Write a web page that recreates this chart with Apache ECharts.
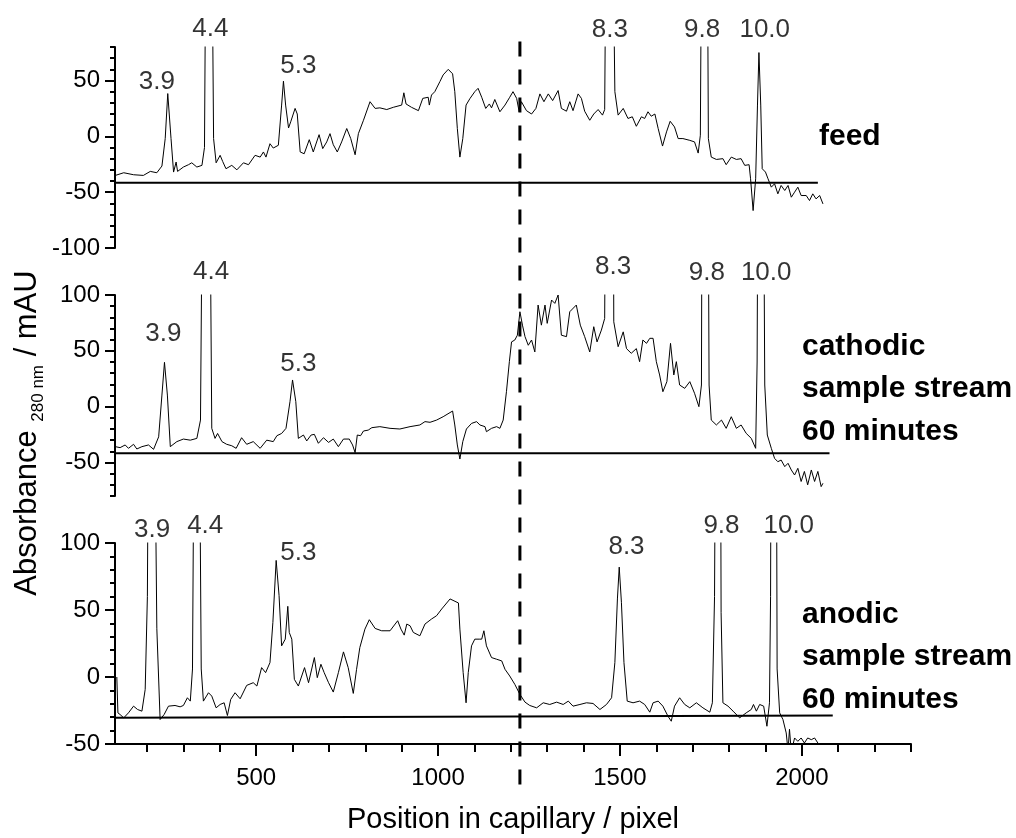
<!DOCTYPE html>
<html><head><meta charset="utf-8">
<script src="https://cdn.jsdelivr.net/npm/echarts@6/dist/echarts.min.js"></script>
<style>html,body{margin:0;padding:0;background:#fff}#main{width:1016px;height:838px}</style>
</head><body><div id="main"></div>
<script>
const FONT = '"Liberation Sans", Arial, Helvetica, sans-serif';

// ---- x axis ----
const xMin = 112, xMax = 2300;
const xLabelTicks = [500, 1000, 1500, 2000];
const xMinorTicks = [200,300,400,500,600,700,800,900,1000,1100,1200,1300,1400,1500,1600,1700,1800,1900,2000,2100,2200,2300];

// ---- y axes ----
const feedYRange = [-100, 80];
const cathYRange = [-80, 100];
const anodYRange = [-50, 100];
const feedYLabels = [-100, -50, 0, 50];
const cathYLabels = [-50, 0, 50, 100];
const anodYLabels = [-50, 0, 50, 100];

// ---- traces [position, absorbance] ----
const feedTrace = [[113,-35],[136,-32.6],[163,-34.4],[190,-35],[209,-31.4],[227,-32.6],[241,-26.6],[250,-2],[257,38.3],[266,-2],[273,-32],[280,-23],[284,-31.4],[300,-27.5],[314,-25.4],[323,-23.7],[337,-27.5],[351,-26],[358,-10],[362,200],[378,200],[383,-2],[390,-23.7],[401,-17],[408,-22.5],[417,-29],[433,-26],[447,-30],[465,-23.7],[479,-25.4],[497,-17],[511,-18.6],[520,-14],[527,-18.6],[538,-6.6],[547,-10.5],[561,-8],[570,28],[575,49.4],[581,28],[589,7.5],[595,13],[607,25],[613,20],[621,-14],[632,-15.6],[646,-3],[657,-14],[673,1.5],[683,-11],[694,-5],[703,2.4],[712,-7.5],[723,-14],[735,-5],[749,7],[760,-2],[772,-16.5],[781,2.4],[795,14.4],[813,31],[827,25],[840,25.5],[859,24],[877,26],[900,28],[906,39],[912,29],[927,26],[946,23],[958,34],[973,35],[976,28],[982,37],[991,40],[1005,49],[1014,55],[1028,60],[1040,56],[1046,40],[1053,7],[1060,-18.6],[1068,-2],[1077,28],[1088,34],[1101,40],[1110,43],[1120,35],[1131,25],[1141,29],[1147,25.5],[1156,33],[1170,22],[1184,28],[1197,35],[1206,40],[1216,34],[1223,22],[1229,31],[1243,23],[1257,20],[1269,25],[1280,38],[1291,31],[1303,38],[1315,32],[1330,41],[1339,25],[1353,22.5],[1362,31],[1371,23],[1385,38],[1394,34],[1403,22.5],[1417,14.4],[1428,20],[1440,24],[1452,19],[1458,24],[1462,200],[1480,200],[1486,40],[1495,19],[1509,25],[1522,16],[1534,17.5],[1545,9],[1559,17.5],[1568,16],[1577,22],[1586,18],[1596,20],[1605,7],[1617,-8.7],[1628,4],[1638,13.5],[1650,8.4],[1660,-2],[1673,-2],[1692,-3.6],[1705,-5],[1715,-15],[1721,1],[1724.5,200],[1740,200],[1743,-2],[1751,-18.6],[1765,-20.7],[1783,-20],[1792,-25.4],[1806,-18.6],[1820,-20.7],[1833,-20],[1843,-26],[1855,-25.4],[1859,-38],[1866,-66.5],[1873,-38],[1878,28],[1882,75],[1887,28],[1891,-29],[1900,-32],[1907,-38],[1916,-45.5],[1925,-42.5],[1934,-51.5],[1943,-44],[1953,-48.5],[1962,-44],[1971,-54.5],[1980,-50],[1989,-45.5],[1998,-53],[2012,-53],[2021,-57.5],[2030,-51.5],[2039,-56],[2049,-53],[2058,-60.5]];

const cathTrace = [[113,-35.8],[126,-36.7],[140,-34.3],[149,-37.3],[163,-33.7],[172,-37.9],[186,-35.8],[204,-34.3],[218,-38.2],[232,-27],[241,10.4],[248,39.7],[256,10.4],[264,-35.8],[282,-31.3],[300,-29],[319,-30],[337,-28.4],[347,-12],[352,200],[373,200],[378,-19.4],[387,-28.4],[394,-24],[406,-31.3],[419,-33.7],[433,-35],[445,-37.3],[460,-27.8],[474,-33.7],[492,-31.3],[511,-37.3],[529,-30],[547,-31.3],[557,-26],[570,-24],[582,-19.4],[593,4.5],[600,23.9],[609,4.5],[616,-28.4],[630,-25.4],[639,-30.7],[651,-25.4],[660,-24.8],[671,-32.8],[685,-27.8],[699,-32],[712,-29],[726,-35.8],[740,-29],[756,-29],[765,-34.3],[772,-41.2],[778,-25.4],[787,-26],[795,-21.8],[808,-21],[818,-18.8],[840,-17.9],[868,-19.4],[895,-20],[923,-17.9],[950,-16.4],[964,-13.4],[978,-14],[996,-12],[1014,-9],[1040,-3.9],[1046,-16.4],[1053,-34.3],[1060,-46.9],[1068,-31.3],[1078,-20],[1092,-15],[1106,-13.4],[1115,-16.4],[1129,-17.9],[1133,-22.4],[1147,-19.4],[1161,-17.9],[1170,-19.4],[1179,-12],[1188,13.4],[1196,40.3],[1202,58],[1211,59.7],[1218,64],[1225,85],[1232,73],[1239,62.7],[1248,55],[1257,59.7],[1266,49],[1275,91],[1284,73],[1294,91],[1300,74.6],[1312,95.5],[1321,92.5],[1330,100],[1339,64],[1353,62.7],[1362,85],[1380,91],[1391,73],[1403,62.7],[1417,49],[1428,71.6],[1437,58],[1449,68.6],[1458,79],[1460,200],[1482,200],[1483,76],[1495,53.7],[1509,67],[1518,52],[1531,47.8],[1545,52],[1554,40.3],[1563,59.7],[1573,56.7],[1582,61.2],[1591,61.2],[1600,40.3],[1609,28.4],[1618,13.4],[1629,22.4],[1639,56.7],[1648,28.4],[1655,40.3],[1664,19.4],[1678,16.4],[1692,22.4],[1705,12],[1717,0],[1724,19.4],[1725.5,200],[1742.5,200],[1745,19.4],[1751,-12],[1765,-16.4],[1779,-12],[1792,-19.4],[1806,-9],[1820,-19.4],[1833,-16.4],[1847,-23.9],[1861,-28.4],[1873,-37.3],[1877,40],[1879,200],[1895,200],[1898,19.4],[1905,-25.4],[1916,-37.3],[1925,-46.3],[1934,-49.3],[1943,-47.8],[1953,-53.7],[1962,-50.7],[1971,-56.7],[1980,-61.2],[1989,-55.2],[1998,-67],[2007,-58],[2016,-70],[2026,-56.7],[2035,-67],[2044,-58],[2053,-71.6],[2058,-68.6]];

const anodTrace = [[117,0],[120,-26.75],[126,-28],[136,-30.5],[149,-26.75],[163,-21.75],[174,-24.25],[186,-25.5],[195,-9.25],[201,60],[204,200],[221,200],[227,36],[236,-31.75],[247,-28],[259,-21.75],[277,-21.25],[291,-22.25],[300,-21.25],[311,-15.5],[319,-18],[325,6],[329.5,200],[344,200],[349,6],[355,-18],[369,-11.75],[378,-14.25],[390,-23],[401,-20.5],[412,-19.25],[421,-28.75],[430,-16.75],[442,-11.75],[456,-16.25],[474,-6.25],[492,-4.25],[502,-6.75],[515,7],[526,3.25],[538,10.75],[546,40.75],[555,87],[563,60.75],[570,23.25],[580,28.25],[587,52.75],[591,33.25],[598,28.25],[605,-1.75],[616,-6.75],[633,7],[644,-4.25],[660,14.5],[668,-0.5],[678,9.5],[687,3.25],[699,-4.25],[712,-11.25],[726,3.25],[740,18.75],[753,7],[767,-12.25],[776,5.75],[785,22],[799,35.75],[811,42.75],[827,36.25],[845,34.5],[868,34.5],[889,42],[898,35.75],[907,31.25],[914,39.5],[923,38.25],[932,33.25],[950,30.75],[964,39.5],[982,43.25],[996,45.75],[1010,50.75],[1033,58.25],[1056,55.25],[1060,35.75],[1069,3.25],[1077,-19.25],[1083,3.25],[1092,23.25],[1101,28.25],[1113,28.25],[1120,28.25],[1126,34.5],[1133,23.25],[1147,14.5],[1161,13.25],[1175,12],[1184,5.75],[1197,0.75],[1211,-5.5],[1225,-13],[1239,-18.75],[1252,-21.25],[1271,-23],[1289,-19.25],[1307,-20.5],[1326,-18.75],[1344,-20.5],[1358,-18],[1371,-21.75],[1390,-20.5],[1408,-19.25],[1426,-19.75],[1445,-24.25],[1463,-20.5],[1477,-15.5],[1486,10.75],[1493,58.25],[1498,82],[1504,55.75],[1511,10.75],[1520,-18],[1536,-19.25],[1554,-18],[1568,-20.5],[1582,-26.25],[1591,-19.25],[1605,-18],[1618,-21.75],[1632,-29.25],[1641,-33],[1650,-21.75],[1664,-15.5],[1678,-20.5],[1692,-23],[1710,-19.25],[1728,-23],[1747,-26.25],[1754,-19.25],[1760,60],[1762.5,200],[1776.5,200],[1778,48],[1783,-19.25],[1797,-21.75],[1811,-25.5],[1829,-30.5],[1847,-26.75],[1861,-24.25],[1867,-20.5],[1875,-25.5],[1884,-20.5],[1895,-21.75],[1904,-36.75],[1911,-19.25],[1914,60],[1915.5,200],[1930,200],[1932,6],[1939,-26.75],[1948,-31.75],[1957,-41.75],[1962,-55],[1966,-39],[1971,-56],[1980,-45.5],[1989,-48],[1998,-45.5],[2007,-49.25],[2016,-45.5],[2026,-46.75],[2035,-45.5],[2044,-49.25]];

// ---- baselines ----
const feedBaseline = [[112,-41.6],[2044,-41.6]];
const cathBaseline = [[112,-41.8],[2076,-41.8]];
const anodBaseline = [[112,-30.5],[2085,-28.8]];

// ---- peak labels (pI) and their positions ----
const peakNames = ['3.9','4.4','5.3','8.3','9.8','10.0'];
const feedLabelPos = [[227,49],[374,96],[616,63],[1472,95],[1726,95],[1898,95]];
const cathLabelPos = [[245,65],[376,121],[616,38],[1481,125],[1739,120],[1902,120]];
const anodLabelPos = [[214,110],[360,113],[616,93],[1518,97],[1779,113],[1964,113]];

// ---- dashed reference line ----
const dashedX = 1225;
const dashedFeedTop = 85;
const dashedAnodBottom = -81;

const panelNames = ['feed', 'cathodic\nsample stream\n60 minutes', 'anodic\nsample stream\n60 minutes'];

function range(a, b, s) { const r = []; for (let v = a; v <= b; v += s) r.push(v); return r; }

const grids = [
  {left: 115, right: 105, top: 47, height: 201, outerBoundsMode: 'none'},
  {left: 115, right: 105, top: 295, height: 201, outerBoundsMode: 'none'},
  {left: 115, right: 105, top: 543, height: 201, outerBoundsMode: 'none'}
];

const axisLineStyle = {color: '#000', width: 2};
function hiddenX(g) {
  return {type: 'value', gridIndex: g, min: xMin, max: xMax, show: false};
}
const mainX = {
  type: 'value', gridIndex: 2, min: xMin, max: xMax, position: 'bottom',
  axisLine: {show: true, onZero: false, lineStyle: axisLineStyle},
  axisTick: {show: true, length: 12, lineStyle: {color: '#000', width: 2}, customValues: xLabelTicks},
  axisLabel: {show: true, color: '#000', fontSize: 24, fontFamily: FONT, margin: 22, customValues: xLabelTicks,
    formatter: v => String(v)},
  splitLine: {show: false},
  name: 'Position in capillary / pixel', nameLocation: 'middle', nameGap: 61,
  nameTextStyle: {color: '#000', fontSize: 29, fontFamily: FONT}
};
const minorX = {
  type: 'value', gridIndex: 2, min: xMin, max: xMax, position: 'bottom',
  axisLine: {show: false, onZero: false},
  axisTick: {show: true, length: 8, lineStyle: {color: '#000', width: 2}, customValues: xMinorTicks},
  axisLabel: {show: false}, splitLine: {show: false}
};

function majorY(g, r, labels) {
  return {
    type: 'value', gridIndex: g, min: r[0], max: r[1], position: 'left',
    axisLine: {show: true, onZero: false, lineStyle: axisLineStyle},
    axisTick: {show: true, length: 10, lineStyle: {color: '#000', width: 2}, customValues: labels},
    axisLabel: {show: true, color: '#000', fontSize: 24, fontFamily: FONT, margin: 15, customValues: labels,
      formatter: v => String(v)},
    splitLine: {show: false}
  };
}
function minorY(g, r) {
  return {
    type: 'value', gridIndex: g, min: r[0], max: r[1], position: 'left',
    axisLine: {show: false, onZero: false},
    axisTick: {show: true, length: 5, lineStyle: {color: '#000', width: 2}, customValues: range(r[0], r[1], 10)},
    axisLabel: {show: false}, splitLine: {show: false}
  };
}

function traceSeries(data, xi, yi) {
  return {type: 'line', xAxisIndex: xi, yAxisIndex: yi, data: data, symbol: 'none', clip: true,
    lineStyle: {color: '#000', width: 1}, silent: true, z: 3, animation: false};
}
function baseSeries(data, xi, yi) {
  return {type: 'line', xAxisIndex: xi, yAxisIndex: yi, data: data, symbol: 'none', clip: true,
    lineStyle: {color: '#000', width: 2}, silent: true, z: 2, animation: false};
}
function labelSeries(pos, xi, yi) {
  return {type: 'scatter', xAxisIndex: xi, yAxisIndex: yi, data: pos, symbolSize: 1, clip: false, silent: true,
    itemStyle: {color: 'rgba(0,0,0,0)'}, z: 5,
    label: {show: true, position: 'inside', color: '#000', textBorderWidth: 0, fontSize: 26, fontFamily: FONT,
      formatter: p => peakNames[p.dataIndex]}};
}

const chart = echarts.init(document.getElementById('main'), null, {renderer: 'canvas'});
chart.setOption({
  animation: false,
  backgroundColor: '#fff',
  grid: grids,
  xAxis: [hiddenX(0), hiddenX(1), mainX, minorX],
  yAxis: [majorY(0, feedYRange, feedYLabels), minorY(0, feedYRange),
          majorY(1, cathYRange, cathYLabels), minorY(1, cathYRange),
          majorY(2, anodYRange, anodYLabels), minorY(2, anodYRange)],
  series: [
    baseSeries(feedBaseline, 0, 0), traceSeries(feedTrace, 0, 0), labelSeries(feedLabelPos, 0, 0),
    baseSeries(cathBaseline, 1, 2), traceSeries(cathTrace, 1, 2), labelSeries(cathLabelPos, 1, 2),
    baseSeries(anodBaseline, 2, 4), traceSeries(anodTrace, 2, 4), labelSeries(anodLabelPos, 2, 4)
  ]
});

const dx = chart.convertToPixel({xAxisIndex: 2}, dashedX);
const dTop = chart.convertToPixel({yAxisIndex: 0}, dashedFeedTop);
const dBot = chart.convertToPixel({yAxisIndex: 4}, dashedAnodBottom);
const boldText = (x, y, text, va) => ({
  type: 'text', x: x, y: y, silent: true,
  style: {text: text, fill: '#000', fontSize: 30, fontWeight: 'bold', fontFamily: FONT,
    align: 'left', verticalAlign: va, lineHeight: 42.5}
});
chart.setOption({
  graphic: [
    {type: 'line', silent: true, z: 10,
     shape: {x1: dx, y1: dTop, x2: dx, y2: dBot},
     style: {stroke: '#000', lineWidth: 3, lineDash: [15, 13]}},
    boldText(819, 137, panelNames[0], 'middle'),
    boldText(802, 325, panelNames[1], 'top'),
    boldText(802, 593, panelNames[2], 'top'),
    {type: 'text', x: 27, y: 433, rotation: Math.PI / 2, silent: true,
     style: {text: '{a|Absorbance }{s|280 nm}{a| / mAU}', align: 'center', verticalAlign: 'middle', fill: '#000',
       rich: {a: {fontSize: 31, fontFamily: FONT, lineHeight: 40, fill: '#000'},
              s: {fontSize: 17, fontFamily: FONT, lineHeight: 12, verticalAlign: 'bottom', fill: '#000'}}}}
  ]
});
</script></body></html>
